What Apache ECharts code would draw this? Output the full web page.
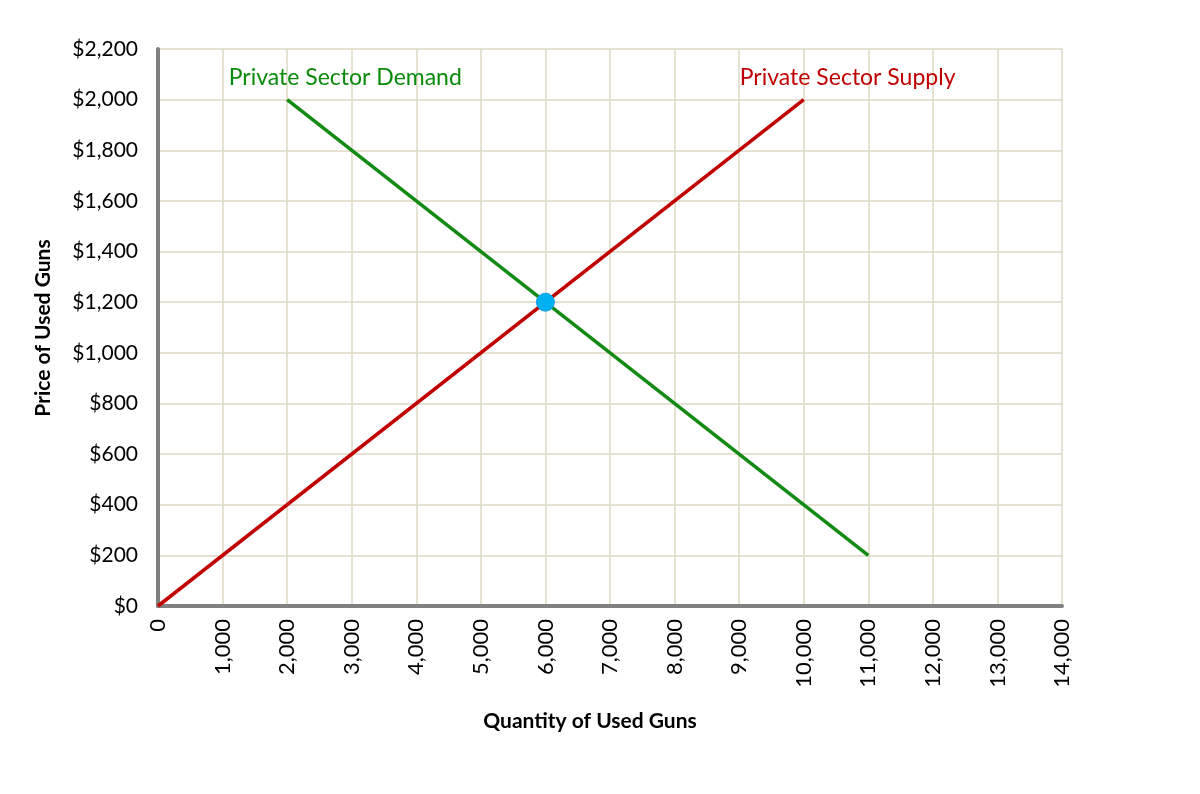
<!DOCTYPE html>
<html>
<head>
<meta charset="utf-8">
<script src="https://cdn.jsdelivr.net/npm/echarts@6/dist/echarts.min.js"></script>
<style>html,body{margin:0;padding:0;background:#fff}#c{width:1200px;height:794px}</style>
</head>
<body>
<div id="c"></div>
<script>
const demandQty = [2000, 11000];
const demandPrice = [2000, 200];
const supplyQty = [0, 10000];
const supplyPrice = [0, 2000];
const equilibrium = [6000, 1200];
const demandName = 'Private Sector Demand';
const supplyName = 'Private Sector Supply';
const xTitle = 'Quantity of Used Guns';
const yTitle = 'Price of Used Guns';

const FONT = 'Lato, "Open Sans", sans-serif';
const chart = echarts.init(document.getElementById('c'));
const fmtX = v => v.toLocaleString('en-US');
const fmtY = v => '$' + v.toLocaleString('en-US');

chart.setOption({
  animation: false,
  grid: {left: 158, right: 138, top: 49, bottom: 188},
  xAxis: {
    type: 'value', min: 0, max: 14000, interval: 1000,
    axisLine: {show: true, onZero: false, lineStyle: {color: '#808080', width: 4}},
    axisTick: {show: false},
    splitLine: {show: true, lineStyle: {color: '#ddd9c3', width: 1.5}},
    axisLabel: {rotate: 90, margin: 13, fontSize: 22, color: '#000', fontFamily: FONT, formatter: fmtX}
  },
  yAxis: {
    type: 'value', min: 0, max: 2200, interval: 200,
    axisLine: {show: true, onZero: false, lineStyle: {color: '#808080', width: 4}},
    axisTick: {show: false},
    splitLine: {show: true, lineStyle: {color: '#ddd9c3', width: 1.5}},
    axisLabel: {margin: 20, fontSize: 21, color: '#000', fontFamily: FONT, formatter: fmtY}
  },
  graphic: [
    {type: 'text', x: 590, y: 721, style: {text: xTitle, fontSize: 21, fontWeight: 'bold', fontFamily: FONT, fill: '#000', align: 'center', verticalAlign: 'middle'}},
    {type: 'text', x: 43, y: 328, rotation: Math.PI / 2, style: {text: yTitle, fontSize: 21, fontWeight: 'bold', fontFamily: FONT, fill: '#000', align: 'center', verticalAlign: 'middle'}}
  ],
  series: [
    {
      type: 'line', name: demandName, symbol: 'none',
      data: demandQty.map((q, i) => [q, demandPrice[i]]),
      lineStyle: {color: '#138a13', width: 3.5},
      markPoint: {symbol: 'circle', symbolSize: 1, itemStyle: {opacity: 0}, data: [{coord: [2900, 2088], label: {show: true, position: 'inside', formatter: demandName, color: '#0a8a0a', fontSize: 23, fontFamily: FONT, opacity: 1}}]}
    },
    {
      type: 'line', name: supplyName, symbol: 'none',
      data: supplyQty.map((q, i) => [q, supplyPrice[i]]),
      lineStyle: {color: '#c00000', width: 3.5},
      markPoint: {symbol: 'circle', symbolSize: 1, itemStyle: {opacity: 0}, data: [{coord: [10680, 2088], label: {show: true, position: 'inside', formatter: supplyName, color: '#c00000', fontSize: 23, fontFamily: FONT, opacity: 1}}]}
    },
    {
      type: 'scatter', data: [equilibrium], symbolSize: 18,
      itemStyle: {color: '#00b0f0', borderColor: '#1a9ee0', borderWidth: 1, opacity: 1}, z: 10
    }
  ]
});
</script>
</body>
</html>
